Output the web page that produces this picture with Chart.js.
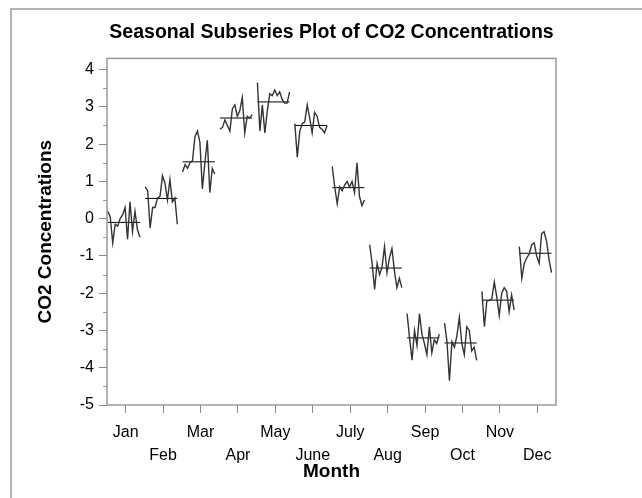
<!DOCTYPE html>
<html>
<head>
<meta charset="utf-8">
<script src="https://cdn.jsdelivr.net/npm/chart.js@4.4.1/dist/chart.umd.min.js"></script>
<style>
  html, body { margin: 0; padding: 0; background: #fff; }
  #wrap { position: relative; width: 642px; height: 498px; overflow: hidden; }
  #frame { position: absolute; left: 10px; top: 8px; width: 700px; height: 600px;
           border-left: 2px solid #b4b4b4; border-top: 2px solid #b4b4b4; pointer-events: none; }
  canvas { display: block; }
</style>
</head>
<body>
<div id="wrap">
  <canvas id="co2Chart" width="642" height="498"></canvas>
  <div id="frame"></div>
</div>
<script>
/* ------------------------------------------------------------
   Données – valeurs (CO2 détrendé)
------------------------------------------------------------ */
const months = ['Jan', 'Feb', 'Mar', 'Apr', 'May', 'June', 'July', 'Aug', 'Sep', 'Oct', 'Nov', 'Dec'];

const jan = [0.2, 0.05, -0.65, -0.15, -0.2, 0.0, 0.1, 0.3, -0.55, 0.45, -0.35, 0.2, -0.3, -0.5];
const feb = [0.85, 0.75, -0.25, 0.3, 0.3, 0.55, 0.6, 1.15, 0.95, 0.5, 1.05, 0.45, 0.55, -0.15];
const mar = [1.25, 1.45, 1.35, 1.5, 1.55, 2.2, 2.35, 2.05, 0.8, 1.5, 2.1, 0.7, 1.35, 1.2];
const apr = [2.4, 2.45, 2.65, 2.5, 2.35, 2.95, 3.05, 2.75, 2.9, 3.25, 2.3, 2.75, 2.7, 2.8];
const may = [3.65, 2.35, 3.05, 2.3, 2.9, 3.35, 3.3, 3.45, 3.3, 3.4, 3.2, 3.1, 3.1, 3.4];
const jun = [2.55, 1.65, 2.35, 2.55, 2.6, 3.05, 2.7, 2.3, 2.85, 2.75, 2.45, 2.4, 2.3, 2.5];
const jul = [1.4, 0.85, 0.4, 0.85, 0.75, 0.9, 1.0, 0.85, 1.0, 0.7, 1.5, 0.6, 0.35, 0.5];
const aug = [-0.7, -1.2, -1.9, -1.2, -1.5, -1.3, -0.75, -1.45, -1.05, -0.8, -1.4, -1.85, -1.6, -1.85];
const sep = [-2.55, -3.2, -3.8, -3.0, -3.4, -2.55, -3.1, -3.35, -3.65, -2.9, -3.6, -3.25, -3.35, -3.1];
const oct = [-2.8, -3.3, -4.35, -3.3, -3.45, -3.15, -2.65, -3.35, -3.65, -2.9, -3.0, -3.55, -3.45, -3.8];
const nov = [-1.95, -2.9, -2.2, -2.2, -2.15, -1.7, -2.1, -2.6, -2.0, -1.85, -1.95, -2.5, -2.05, -2.45];
const dec = [-0.75, -1.6, -1.2, -1.05, -0.95, -0.7, -0.65, -1.0, -1.2, -0.4, -0.35, -0.6, -1.1, -1.45];

const subseries = [jan, feb, mar, apr, may, jun, jul, aug, sep, oct, nov, dec];
const yMajorTicks = [-5, -4, -3, -2, -1, 0, 1, 2, 3, 4];
const yMinorTicks = [-4.5, -3.5, -2.5, -1.5, -0.5, 0.5, 1.5, 2.5, 3.5];

/* ------------------------------------------------------------
   Construction des séries : une courbe + une moyenne par mois
------------------------------------------------------------ */
const datasets = [];
subseries.forEach((vals, m) => {
    const n = vals.length;
    const xs = vals.map((_, i) => m + 1 - 0.48 + 0.86 * i / (n - 1));
    datasets.push({
        data: vals.map((v, i) => ({ x: xs[i], y: v })),
        borderColor: '#333', borderWidth: 1.4, pointRadius: 0
    });
    const mean = vals.reduce((a, b) => a + b, 0) / n;
    datasets.push({
        data: [{ x: xs[0], y: mean }, { x: xs[n - 1], y: mean }],
        borderColor: '#000', borderWidth: 1, pointRadius: 0
    });
});

/* cadre du graphique + petites graduations */
const framePlugin = {
    id: 'frame',
    afterDraw(chart) {
        const { ctx, chartArea: a, scales: { y } } = chart;
        ctx.save();
        ctx.strokeStyle = '#999';
        ctx.lineWidth = 1.5;
        ctx.strokeRect(a.left, a.top, a.right - a.left, a.bottom - a.top);
        ctx.lineWidth = 1;
        ctx.beginPath();
        yMinorTicks.forEach(v => {
            const py = Math.round(y.getPixelForValue(v)) + 0.5;
            ctx.moveTo(a.left - 4, py);
            ctx.lineTo(a.left, py);
        });
        ctx.stroke();
        ctx.restore();
    }
};

Chart.defaults.font.family = '"Liberation Sans", Arial, sans-serif';
Chart.defaults.color = '#000';

new Chart(document.getElementById('co2Chart'), {
    type: 'line',
    data: { datasets },
    options: {
        responsive: false,
        animation: false,
        layout: { padding: { left: 0, right: 86, top: 0, bottom: 15 } },
        plugins: {
            legend: { display: false },
            tooltip: { enabled: false },
            title: {
                display: true,
                fullSize: false,
                text: 'Seasonal Subseries Plot of CO2 Concentrations',
                font: { size: 19.5, weight: 'bold' },
                padding: { top: 21, bottom: 14 }
            }
        },
        scales: {
            x: {
                type: 'linear',
                min: 0.5, max: 12.5,
                afterBuildTicks: s => { s.ticks = months.map((_, i) => ({ value: i + 1 })); },
                afterFit: s => { s.height = 78; },
                border: { display: false },
                grid: { drawOnChartArea: false, tickLength: 8, tickColor: '#888' },
                ticks: {
                    font: { size: 16, lineHeight: 1.4375 },
                    padding: 8,
                    maxRotation: 0,
                    autoSkip: false,
                    callback: v => {
                        const name = months[Math.round(v) - 1];
                        return (Math.round(v) % 2 === 1) ? name : ['', name];
                    }
                },
                title: {
                    display: true, text: 'Month',
                    font: { size: 19, weight: 'bold' },
                    padding: { top: 0, bottom: 0 }
                }
            },
            y: {
                min: -5, max: 4.3,
                afterBuildTicks: s => { s.ticks = yMajorTicks.map(v => ({ value: v })); },
                afterFit: s => { s.width = 107; },
                border: { display: false },
                grid: { drawOnChartArea: false, tickLength: 8, tickColor: '#888' },
                ticks: { font: { size: 16 }, padding: 5 },
                title: {
                    display: true, text: 'CO2 Concentrations',
                    font: { size: 19, weight: 'bold' },
                    padding: { top: 34.5, bottom: 0 }
                }
            }
        }
    },
    plugins: [framePlugin]
});
</script>
</body>
</html>
